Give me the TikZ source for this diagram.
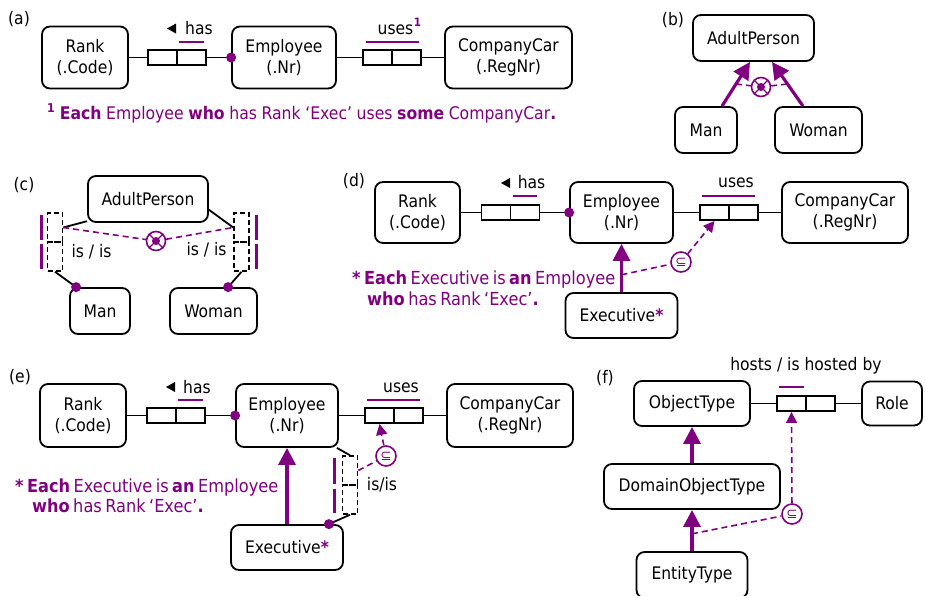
\documentclass[tikz,border=0pt]{standalone}
\usepackage{fontspec}
\setmainfont{DejaVu Sans Condensed}
\newfontfamily\symf{DejaVu Sans}
\usetikzlibrary{arrows.meta,calc}
\definecolor{ormp}{RGB}{128,0,128}
\tikzset{
 ent/.style={draw, line width=1.8pt, rounded corners=8pt, align=center, inner sep=0pt},
 rolebox/.style={draw, line width=1.9pt, minimum width=29pt, minimum height=15pt, inner sep=0pt},
 vrolebox/.style={draw, line width=1.5pt, dash pattern=on 5pt off 3pt, minimum width=15pt, minimum height=29pt, inner sep=0pt},
 conn/.style={line width=1.8pt},
 uniq/.style={draw=ormp, line width=2.6pt},
 subt/.style={draw=ormp, line width=3.2pt, -{Triangle[length=17pt,width=17pt]}},
 cdash/.style={draw=ormp, line width=1.6pt, dash pattern=on 6pt off 4pt},
 carrow/.style={cdash, -{Triangle[length=11pt,width=11pt]}},
 xorc/.style={draw=ormp, circle, line width=1.6pt, minimum size=19pt, inner sep=0pt},
 subc/.style={draw=ormp, circle, line width=1.6pt, minimum size=20pt, inner sep=0pt, text=ormp, font=\symf\fontsize{13.5}{13.5}\selectfont},
 note/.style={text=ormp, anchor=base west, inner sep=0pt},
 lbl/.style={inner sep=0pt}
}
\begin{document}
\begin{tikzpicture}[x=1pt, y=-1pt, font=\fontsize{17.3}{21}\selectfont]
\useasboundingbox (0,0) rectangle (925,595);
\clip (0,0) rectangle (925,595);
\fill[white] (0,0) rectangle (925,595);

% ---------------- (a)
\node[lbl] (lblA) at (19,19) {(a)};
\node[ent, minimum width=86pt, minimum height=62pt] (rankA) at (85,57.5) {Rank\\(.Code)};
\node[rolebox] (hA1) at (162.5,57.5) {};
\node[rolebox] (hA2) at (191.5,57.5) {};
\node[ent, minimum width=104pt, minimum height=62pt] (empA) at (284,57.5) {Employee\\(.Nr)};
\node[rolebox] (uA1) at (377.5,57.5) {};
\node[rolebox] (uA2) at (406.5,57.5) {};
\node[ent, minimum width=127pt, minimum height=62pt] (carA) at (508.5,57.5) {CompanyCar\\(.RegNr)};
\draw[conn] (rankA) -- (hA1);
\draw[conn] (hA2) -- (empA);
\fill[ormp] (empA.west) circle (5pt);
\draw[conn] (empA) -- (uA1);
\draw[conn] (uA2) -- (carA);
\draw[uniq] ($(hA2.north west)+(3,-7)$) -- ($(hA2.north east)+(-3,-7)$);
\draw[uniq] ($(uA1.north west)+(4,-7)$) -- ($(uA2.north east)+(-3,-7)$);
\fill (167,28.5) -- (176,23.5) -- (176,33.5) -- cycle;
\node[lbl] (hasA) at (199,28) {has};
\node[lbl] (usesA) at (395.5,30) {uses};
\node[lbl, text=ormp, font=\bfseries\fontsize{11.5}{11.5}\selectfont] (supA) at (417.5,22) {1};
\node[note, font=\fontsize{17.4}{21}\selectfont] (noteA) at (47,119) {\makebox[509pt][s]{\textbf{\textsuperscript{1}} \textbf{Each} Employee \textbf{who} has Rank ‘Exec’ uses \textbf{some} CompanyCar\textbf{.}}};

% ---------------- (b)
\node[lbl] (lblB) at (673,20) {(b)};
\node[ent, minimum width=121pt, minimum height=46pt] (apB) at (753.5,38) {AdultPerson};
\node[ent, minimum width=62pt, minimum height=46pt] (manB) at (706,130) {Man};
\node[ent, minimum width=87pt, minimum height=46pt] (womB) at (818.5,130) {Woman};
\coordinate (mB1) at ($(manB.north)+(16,0)$);
\coordinate (mB2) at ($(apB.south)+(-3.5,0)$);
\coordinate (wB1) at ($(womB.north)+(-15.5,0)$);
\coordinate (wB2) at ($(apB.south)+(18.5,0)$);
\draw[subt] (mB1) -- (mB2);
\draw[subt] (wB1) -- (wB2);
\node[xorc] (xB) at (761,87) {};
\fill[ormp] (xB) circle (4pt);
\draw[ormp, line width=1.3pt] (xB.45) -- (xB.225) (xB.135) -- (xB.315);
\draw[cdash] ($(mB1)!0.5!(mB2)$) -- (xB);
\draw[cdash] (xB) -- ($(wB1)!0.5!(wB2)$);

% ---------------- (c)
\node[lbl] (lblC) at (24,185) {(c)};
\node[ent, minimum width=120pt, minimum height=46pt] (apC) at (148,199) {AdultPerson};
\node[vrolebox] (lcU) at (55,227.5) {};
\node[vrolebox] (lcL) at (55,256.5) {};
\node[vrolebox] (rcU) at (241.5,227.5) {};
\node[vrolebox] (rcL) at (241.5,256.5) {};
\node[ent, minimum width=60pt, minimum height=46pt] (manC) at (100,311) {Man};
\node[ent, minimum width=87pt, minimum height=46pt] (womC) at (213.5,311) {Woman};
\coordinate (mdC) at ($(manC.north west)+(7,0)$);
\coordinate (wdC) at ($(womC.north west)+(59,0)$);
\draw[conn] (apC.200) -- (lcU.east);
\draw[conn] (apC.-10) -- (rcU.west);
\draw[conn] (lcL.south) -- (mdC);
\fill[ormp] (mdC) circle (5pt);
\draw[conn] (rcL.south) -- (wdC);
\fill[ormp] (wdC) circle (5pt);
\draw[uniq] ($(lcU.north west)+(-5.5,3)$) -- ($(lcU.south west)+(-5.5,-3)$);
\draw[uniq] ($(lcL.north west)+(-5.5,3)$) -- ($(lcL.south west)+(-5.5,-3)$);
\draw[uniq] ($(rcU.north east)+(7,3)$) -- ($(rcU.south east)+(7,-3)$);
\draw[uniq] ($(rcL.north east)+(7,3)$) -- ($(rcL.south east)+(7,-3)$);
\node[lbl] (isC1) at (91.5,252) {is / is};
\node[lbl] (isC2) at (206.5,250) {is / is};
\node[xorc] (xC) at (156,241) {};
\fill[ormp] (xC) circle (4pt);
\draw[ormp, line width=1.3pt] (xC.45) -- (xC.225) (xC.135) -- (xC.315);
\draw[cdash] (lcU.east) -- (xC);
\draw[cdash] (xC) -- (rcU.west);

% ---------------- (d)
\node[lbl] (lblD) at (354,181) {(d)};
\node[ent, minimum width=85pt, minimum height=61pt] (rankD) at (417.5,212.5) {Rank\\(.Code)};
\node[rolebox] (hD1) at (496,212.5) {};
\node[rolebox] (hD2) at (525,212.5) {};
\node[ent, minimum width=103pt, minimum height=61pt] (empD) at (621.5,212.5) {Employee\\(.Nr)};
\node[rolebox] (uD1) at (714.5,212.5) {};
\node[rolebox] (uD2) at (743.5,212.5) {};
\node[ent, minimum width=126pt, minimum height=61pt] (carD) at (845,212.5) {CompanyCar\\(.RegNr)};
\node[ent, minimum width=112pt, minimum height=45pt] (execD) at (621.5,315.5) {Executive{\color{ormp}\bfseries *}};
\draw[conn] (rankD) -- (hD1);
\draw[conn] (hD2) -- (empD);
\fill[ormp] (empD.west) circle (5pt);
\draw[conn] (empD) -- (uD1);
\draw[conn] (uD2) -- (carD);
\draw[uniq] ($(hD2.north west)+(3,-8)$) -- ($(hD2.north east)+(-3,-8)$);
\draw[uniq] ($(uD1.north west)+(3,-8)$) -- ($(uD2.north east)+(-4,-8)$);
\fill (501,183) -- (510,178) -- (510,188) -- cycle;
\node[lbl] (hasD) at (531.5,182.5) {has};
\node[lbl] (usesD) at (736,183) {uses};
\draw[subt] (execD) -- (empD);
\node[subc] (sD) at (681,262) {⊆};
\draw[cdash] ($(execD.north)!0.36!(empD.south)$) -- (sD);
\draw[carrow] (sD) -- (uD1.south);
\node[note, font=\fontsize{18}{21}\selectfont] (noteD1) at (352,284) {\makebox[263pt][s]{\textbf{*} \textbf{Each} Executive is \textbf{an} Employee}};
\node[note, font=\fontsize{18}{21}\selectfont] (noteD2) at (367,305) {\makebox[168pt][s]{\textbf{who} has Rank ‘Exec’\textbf{.}}};

% ---------------- (e)
\node[lbl] (lblE) at (20,377) {(e)};
\node[ent, minimum width=86pt, minimum height=63pt] (rankE) at (83,415.5) {Rank\\(.Code)};
\node[rolebox] (hE1) at (161.5,415.5) {};
\node[rolebox] (hE2) at (190.5,415.5) {};
\node[ent, minimum width=102pt, minimum height=63pt] (empE) at (287,415.5) {Employee\\(.Nr)};
\node[rolebox] (uE1) at (379.5,415.5) {};
\node[rolebox] (uE2) at (408.5,415.5) {};
\node[ent, minimum width=126pt, minimum height=63pt] (carE) at (510,415.5) {CompanyCar\\(.RegNr)};
\node[ent, minimum width=112pt, minimum height=45pt] (execE) at (287,547.5) {Executive{\color{ormp}\bfseries *}};
\draw[conn] (rankE) -- (hE1);
\draw[conn] (hE2) -- (empE);
\fill[ormp] (empE.west) circle (5pt);
\draw[conn] (empE) -- (uE1);
\draw[conn] (uE2) -- (carE);
\draw[uniq] ($(hE2.north west)+(3,-7)$) -- ($(hE2.north east)+(-3,-7)$);
\draw[uniq] ($(uE1.north west)+(3,-7)$) -- ($(uE2.north east)+(-4,-7)$);
\fill (166,387) -- (175,382) -- (175,392) -- cycle;
\node[lbl] (hasE) at (197,387.5) {has};
\node[lbl] (usesE) at (401,387.5) {uses};
\draw[subt] (execE) -- (empE);
\node[vrolebox] (eU) at (350,470.5) {};
\node[vrolebox] (eL) at (350,499.5) {};
\coordinate (edE) at ($(execE.north east)+(-15,0)$);
\draw[conn] (empE.-33.5) -- (eU.north);
\draw[conn] (eL.south) -- (edE);
\fill[ormp] (edE) circle (5pt);
\draw[uniq] ($(eU.north west)+(-7.5,3)$) -- ($(eU.south west)+(-7.5,-2)$);
\draw[uniq] ($(eL.north west)+(-7.5,5)$) -- ($(eL.south west)+(-7.5,-2)$);
\node[lbl] (isE) at (382,485) {is/is};
\node[subc] (sE) at (386,456) {⊆};
\draw[cdash] (eU.east) -- (sE);
\draw[carrow] (sE) -- (uE1.south);
\node[note, font=\fontsize{18}{21}\selectfont] (noteE1) at (15,492) {\makebox[263pt][s]{\textbf{*} \textbf{Each} Executive is \textbf{an} Employee}};
\node[note, font=\fontsize{18}{21}\selectfont] (noteE2) at (32,512) {\makebox[168pt][s]{\textbf{who} has Rank ‘Exec’\textbf{.}}};

% ---------------- (f)
\node[lbl] (lblF) at (605,378) {(f)};
\node[lbl] (hostF) at (806,366) {hosts / is hosted by};
\node[ent, minimum width=116pt, minimum height=45pt] (otF) at (692,403.5) {ObjectType};
\node[rolebox] (hF1) at (791.5,403.5) {};
\node[rolebox] (hF2) at (820.5,403.5) {};
\node[ent, minimum width=60pt, minimum height=44pt] (roleF) at (892,403.5) {Role};
\node[ent, minimum width=176pt, minimum height=45pt] (dotF) at (692,486.5) {DomainObjectType};
\node[ent, minimum width=111pt, minimum height=46pt] (entF) at (692,575) {EntityType};
\draw[conn] (otF) -- (hF1);
\draw[conn] (hF2) -- (roleF);
\draw[uniq] ($(hF1.north west)+(3,-8)$) -- ($(hF1.north east)+(-3,-8)$);
\draw[subt] (dotF) -- (otF);
\draw[subt] (entF) -- (dotF);
\node[subc] (sF) at (792,514) {⊆};
\draw[cdash] ($(entF.north)!0.42!(dotF.south)$) -- (sF);
\draw[carrow] (sF) -- (hF1.south);
\end{tikzpicture}
\end{document}
